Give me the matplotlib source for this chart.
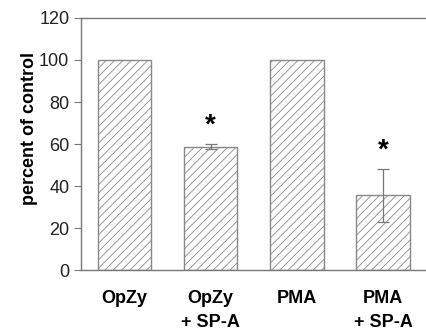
import matplotlib
matplotlib.use("Agg")
import matplotlib.pyplot as plt
import numpy as np

plt.rcParams["font.family"] = ["Liberation Sans", "DejaVu Sans"]
plt.rcParams["hatch.color"] = "#555555"
plt.rcParams["hatch.linewidth"] = 0.6

categories = ["OpZy", "OpZy\n+ SP-A", "PMA", "PMA\n+ SP-A"]
values = [100, 58.7, 100, 35.5]
errors = [0, 1.2, 0, 12.5]
significant = [False, True, False, True]

fig = plt.figure(figsize=(4.27, 3.33), dpi=100)
ax = fig.add_axes([0.19, 0.189, 0.808, 0.757])

x = np.arange(len(categories))
ax.bar(x, values, width=0.62, color="white", edgecolor="#888888",
       linewidth=1.0, hatch="////")
for xi, v, e in zip(x, values, errors):
    if e > 0:
        ax.errorbar(xi, v, yerr=e, fmt="none", ecolor="#777777",
                    elinewidth=0.9, capsize=4, capthick=0.9)
for xi, v, e, s in zip(x, values, errors, significant):
    if s:
        ax.text(xi, v + e + 2.5, "*", ha="center", va="bottom",
                fontsize=20, fontweight="bold")

ax.set_xlim(-0.5, 3.5)
ax.set_ylim(0, 120)
ax.set_yticks(range(0, 121, 20))
ax.set_xticks(x)
ax.set_xticklabels(categories, fontweight="bold", fontsize=13, linespacing=1.6)
ax.tick_params(axis="x", length=0, pad=14)
ax.tick_params(axis="y", length=5, color="#777777", labelsize=13, labelcolor="#222222")
ax.set_ylabel("percent of control", fontweight="bold", fontsize=13)
ax.yaxis.set_label_coords(-0.125, 0.56)
for side in ["left", "bottom", "top"]:
    ax.spines[side].set_color("#777777")
    ax.spines[side].set_linewidth(1.0)
ax.spines["right"].set_visible(False)

fig.savefig("out.png", dpi=100)
